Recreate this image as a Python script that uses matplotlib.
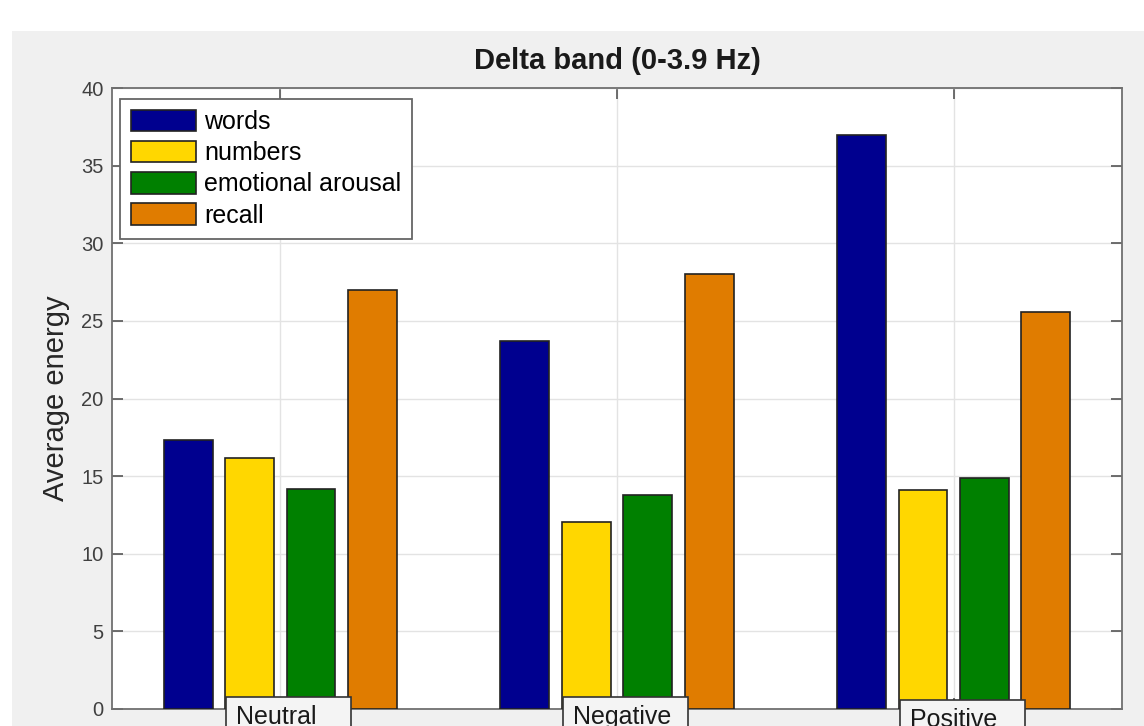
import matplotlib
matplotlib.use("Agg")
import matplotlib.pyplot as plt
from matplotlib.patches import Rectangle
import matplotlib.transforms as mtransforms
import numpy as np

plt.rcParams["font.family"] = ["Liberation Sans", "DejaVu Sans"]

# ── Data ─────────────────────────────────────────────────────────────────────
conditions = ["Neutral", "Negative", "Positive"]
series     = ["words", "numbers", "emotional arousal", "recall"]
words      = [17.33, 23.72, 36.95]
numbers    = [16.19, 12.05, 14.10]
emotional  = [14.19, 13.76, 14.86]
recall     = [26.97, 28.04, 25.59]
colors     = ["#00008f", "#ffd700", "#008000", "#e07c00"]

values = [words, numbers, emotional, recall]
x = np.arange(1, len(conditions) + 1)
step, width = 0.1825, 0.145

fig = plt.figure(figsize=(11.44, 7.26), dpi=100)
fig.patch.set_facecolor("white")
# grey canvas behind the axes
fig.patches.append(Rectangle((12 / 1144, 0), 1 - 12 / 1144, 1 - 31 / 726,
                             transform=fig.transFigure, facecolor="#f0f0f0",
                             edgecolor="none", zorder=-10))

ax = fig.add_axes([112 / 1144, 17 / 726, 1010 / 1144, 621 / 726])
ax.set_facecolor("white")

for i, (vals, c, name) in enumerate(zip(values, colors, series)):
    off = (i - 1.5) * step
    ax.bar(x + off, vals, width=width, color=c, edgecolor="#222222",
           linewidth=1.2, label=name, zorder=3)

ax.set_xlim(0.5, 3.5)
ax.set_ylim(0, 40)
ax.set_xticks(x)
ax.set_xticklabels([])
ax.set_yticks(np.arange(0, 41, 5))
ax.grid(True, color="#e3e3e3", linewidth=1.0, zorder=0)
ax.tick_params(axis="both", direction="in", length=8, width=1.2,
               color="#555555", top=True, right=True, labelsize=14.5,
               labelcolor="#404040", pad=6)
for sp in ax.spines.values():
    sp.set_color("#707070")
    sp.set_linewidth(1.3)

ax.set_ylabel("Average energy", fontsize=21, color="#262626", labelpad=8)
ax.set_title("Delta band (0-3.9 Hz)", fontsize=21, fontweight="bold",
             color="#1a1a1a", pad=14)

leg = ax.legend(loc="upper left", bbox_to_anchor=(0.008, 0.983),
                borderaxespad=0, fontsize=18, handlelength=2.6,
                handleheight=0.95, labelspacing=0.27, handletextpad=0.3,
                borderpad=0.45, fancybox=False, framealpha=1)
leg.get_frame().set_edgecolor("#666666")
leg.get_frame().set_linewidth(1.3)

# category labels drawn as boxed tags hanging off the bottom of the axes
trans = mtransforms.blended_transform_factory(ax.transData, ax.transAxes)
box_w = 125 / 337
box_top = [12 / 621, 12 / 621, 9 / 621]
for xi, name, top in zip(x, conditions, box_top):
    left = xi + 0.025 - box_w / 2
    ax.add_patch(Rectangle((left, top - 0.08), box_w, 0.08, transform=trans,
                           facecolor="#f4f4f4", edgecolor="#333333",
                           linewidth=1.2, clip_on=False, zorder=5))
    ax.text(left + 10 / 337, top - 0.013, name, transform=trans, ha="left",
            va="top", fontsize=18, color="#1a1a1a", clip_on=False, zorder=6)

plt.savefig("out.png", dpi=100)
plt.close()
